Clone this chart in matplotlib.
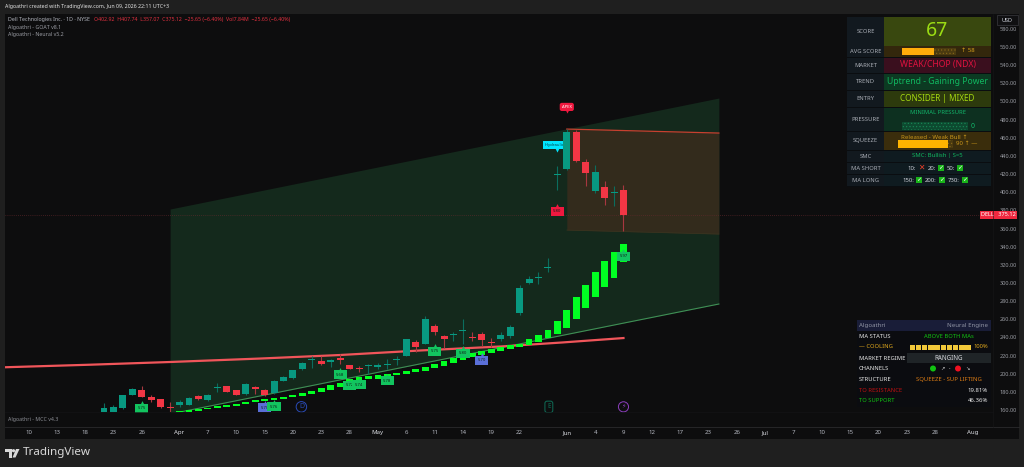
import matplotlib
matplotlib.use('Agg')
import matplotlib.pyplot as plt
from matplotlib.patches import Rectangle, Circle, Polygon

plt.rcParams['font.family'] = ['Noto Sans', 'DejaVu Sans']
plt.rcParams['hatch.linewidth'] = 0.4

# candles (Mar -> Jun 9)
opens = [158, 158, 162.2, 176.9, 181.7, 174, 171.8, 163.5, 166, 166, 175.4, 171, 184.7, 186.5,
         182, 177.6, 185, 182, 178.4, 192, 195, 205, 214.6, 213.6, 213, 217.3, 209.3, 206.3,
         209, 207.5, 210, 214.6, 219.8, 234.6, 233, 252.6, 241.5, 243, 247.5, 241, 243.7, 235,
         238.2, 241.9, 267.3, 299.6, 305.5, 316.5, 419, 426, 466.5, 433, 401.6, 405.7, 399, 402.92]
highs = [168, 165, 177, 184, 186, 176, 172.5, 169, 171, 174, 176, 177.5, 190, 187,
         182.5, 190, 186, 183, 193.5, 197, 204.5, 213, 219, 219, 216, 222, 210, 208.5,
         211, 211.5, 216, 220, 238.5, 237, 263.6, 255, 242.5, 246, 260, 246.5, 245.5, 239,
         246.5, 253.5, 297.7, 307.6, 311.6, 327, 429, 469.6, 468.6, 436.5, 430, 412.7, 407, 407.74]
lows = [157, 157, 161, 176, 174, 169, 162.5, 155, 163, 165.5, 171, 170, 180, 179.5,
        176, 177, 178, 175.5, 177.5, 191.5, 194.5, 204, 206.5, 209.5, 207, 211, 205, 201.5,
        200, 205, 205, 209.5, 219, 224, 233, 243, 228, 236, 233, 236, 231, 229,
        236, 239.5, 264.7, 298.5, 299, 312, 402.8, 425, 433.6, 407, 399, 386, 385, 357.07]
closes = [162, 163.6, 176.2, 183.2, 174.8, 171, 163, 162.5, 168.8, 173.2, 172, 176.9, 185.3, 180,
          176.9, 189, 183, 176.2, 192.3, 196, 203.6, 211.8, 215.2, 211, 215, 215, 205.3, 205.5,
          209.6, 209.5, 210.6, 215.2, 238, 229.4, 260, 246.5, 238, 243.8, 248, 239.5, 237, 233.8,
          242.6, 252, 295, 304.4, 307, 317.5, 420, 466, 434.7, 420.8, 422, 394, 400, 375.12]

# bright green trail bars, first one sits on bar 8
trail_start = 8
trail_top = [158.9, 160.3, 161.1, 162.5, 164.1, 165.5, 166.9, 168.8, 170.7, 171.8, 173.2, 174.6,
             176.8, 179, 181.2, 184.6, 187.5, 190.1, 194.1, 196.3, 197.4, 198.2, 199.7, 201.1,
             203, 205.2, 207.7, 210.7, 214, 217.6, 219.8, 222.5, 225, 227.2, 229, 231.3, 233,
             237.9, 242.3, 248.1, 258, 270.2, 284.5, 297.7, 312, 324.2, 334.1, 342.9]
trail_bot = [157.8, 158.1, 159.2, 160.7, 161.8, 163.6, 164.7, 166.9, 168.5, 169.6, 171, 172.4,
             174, 175.7, 177.6, 179.8, 182.3, 185, 189.8, 193, 193.8, 194.5, 196, 198.2,
             200, 201.5, 203.3, 205.9, 208.8, 212.1, 214.7, 218, 220.6, 222.8, 225.3, 227.5, 229,
             231.6, 234.6, 239, 243.7, 250.7, 260.6, 272.4, 284.5, 295.5, 305.4, 323]

ma_idx = [-10.5, -1.5, 7, 16.5, 25, 33.5, 42, 48.5, 55]
ma_val = [207.1, 209.9, 212.9, 216.7, 220.6, 225.6, 230, 234.4, 239.3]

channel_idx = [7, 65.1]
channel_up = [381.5, 503.8]
channel_low = [155.6, 276.8]
zone_idx = [49, 65.1]
zone_top = [469.6, 465.2]
zone_bot = [358.3, 353.9]
last_price = 375.12

price_ticks = list(range(160, 600, 20))
date_pos = [-8, -5, -2, 1, 4, 8, 11, 14, 17, 20, 23, 26, 29, 32, 35, 38, 41, 44, 49, 52, 55,
            58, 61, 64, 67, 70, 73, 76, 79, 82, 85, 88, 92]
date_labels = ['10', '13', '18', '23', '26', 'Apr', '7', '10', '15', '20', '23', '28', 'May', '6',
               '11', '14', '19', '22', 'Jun', '4', '9', '12', '17', '23', '26', 'Jul', '7', '10',
               '15', '20', '23', '28', 'Aug']
month_labels = ['Apr', 'May', 'Jun', 'Jul', 'Aug']

# chart tags: bar, price, text, colour
tag_idx = [4, 17, 18, 25, 26, 27, 30, 35, 38, 40, 48, 55]
tag_price = [162.2, 162.5, 163.6, 198.6, 187.5, 188, 192, 225, 222.8, 215.1, 379.3, 329.7]
tag_text = ['5.75', '5.70', '5.76', '5.68', '5.72', '5.74', '5.78', '5.75', '5.80', '5.70', '5.80', '5.97']
tag_color = ['#12c45f', '#5a6fd8', '#12c45f', '#12c45f', '#12c45f', '#12c45f', '#12c45f', '#12c45f',
             '#12c45f', '#5a6fd8', '#f0183f', '#12c45f']

FIG_BG = '#1f1f1f'
PANE = '#0d0d0e'
TEAL = '#089981'
RED = '#f23645'
LIME = '#00ff22'

fig = plt.figure(figsize=(10.24, 4.67), dpi=100, facecolor=FIG_BG)

# pixel layer for everything that is not price data
ui_back = fig.add_axes([0, 0, 1, 1], zorder=0)
ui_back.set_xlim(0, 1024)
ui_back.set_ylim(467, 0)
ui_back.axis('off')
ui_back.add_patch(Rectangle((5, 14), 1014, 425, fc=PANE, ec='none'))

ax = fig.add_axes([5 / 1024, 55 / 467, 988 / 1024, 398 / 467], zorder=1)
ax.set_facecolor('none')
ax.set_xlim((5 - 104) / 9.445, (993 - 104) / 9.445)
ax.set_ylim(157.8, 596.4)
for s in ax.spines.values():
    s.set_visible(False)

# channel and zone
ax.fill_between(channel_idx, channel_low, channel_up, color='#14291c', lw=0, zorder=1)
ax.plot(channel_idx, channel_low, color='#3f8f55', lw=0.8, zorder=2)
ax.fill_between(zone_idx, zone_bot, zone_top, color='#332b1c', lw=0, zorder=2)
ax.plot(zone_idx, zone_top, color='#c8402f', lw=0.9, zorder=3)
ax.plot(zone_idx, zone_bot, color='#3a3520', lw=0.5, zorder=3)

ax.axhline(last_price, color='#6e2a30', lw=0.5, ls=(0, (1, 2)), zorder=3)
ax.plot(ma_idx, ma_val, color='#f0555a', lw=1.6, zorder=4)

# trail bars
for i in range(len(trail_top)):
    ax.bar(trail_start + i, trail_top[i] - trail_bot[i], 0.72, bottom=trail_bot[i],
           color=LIME, lw=0, zorder=5)

# candles
for i in range(len(opens)):
    col = TEAL if closes[i] >= opens[i] else RED
    wick = '#0b6d5e' if closes[i] >= opens[i] else '#a83740'
    ax.vlines(i, lows[i], highs[i], color=wick, lw=0.8, zorder=6)
    body = max(abs(closes[i] - opens[i]), 1.1)
    ax.bar(i, body, 0.74, bottom=min(opens[i], closes[i]), color=col, edgecolor=col, lw=0, zorder=7)

# tags on the bars
for i in range(len(tag_idx)):
    ax.plot(tag_idx[i], tag_price[i] + 5, marker='^', ms=3.5, color=tag_color[i], mew=0, zorder=8)
    ax.text(tag_idx[i], tag_price[i], tag_text[i], fontsize=3, color='#10201a', ha='center', va='center',
            zorder=9, bbox=dict(boxstyle='square,pad=0.6', fc=tag_color[i], ec='none'))

ax.plot(49, 489, marker='v', ms=3, color='#f0183f', mew=0, zorder=8)
ax.text(49, 494, 'APEX', fontsize=3, color='white', ha='center', va='center', zorder=9,
        bbox=dict(boxstyle='round,pad=0.5', fc='#f0183f', ec='none'))
ax.plot(48, 447, marker='v', ms=3, color='#00e5ff', mew=0, zorder=5.5)
ax.text(47.9, 452, 'Hydraulic P', fontsize=3, color='#07414a', ha='center', va='center', zorder=5.6,
        bbox=dict(boxstyle='square,pad=0.5', fc='#00e5ff', ec='none'))

# event markers
ax.text(20.9, 163.5, 'D', fontsize=5, color='#2a4bb8', ha='center', va='center', zorder=6,
        bbox=dict(boxstyle='circle,pad=0.25', fc='none', ec='#2a4bb8', lw=0.7))
ax.text(47.1, 163.5, 'E', fontsize=4.5, color='#0f6e58', ha='center', va='center', zorder=6,
        bbox=dict(boxstyle='round,pad=0.35', fc='none', ec='#0f6e58', lw=0.7))
ax.text(55, 163.5, '⚡', fontsize=4.5, color='#8e3fc0', ha='center', va='center', zorder=6,
        bbox=dict(boxstyle='circle,pad=0.25', fc='none', ec='#8e3fc0', lw=0.7))

# axes
ax.yaxis.tick_right()
ax.set_yticks(price_ticks)
ax.set_yticklabels(['%.2f' % p for p in price_ticks], fontsize=4.0, color='#9a9ca3')
ax.tick_params(axis='y', length=0, pad=5)
ax.set_xticks(date_pos)
ax.set_xticklabels(date_labels, fontsize=4.4, color='#b2b5be')
for lab in ax.get_xticklabels():
    if lab.get_text() in month_labels:
        lab.set_fontweight('bold')
        lab.set_color('#d8dae0')
ax.tick_params(axis='x', length=0, pad=13)

# top pixel layer
ui = fig.add_axes([0, 0, 1, 1], zorder=2)
ui.set_xlim(0, 1024)
ui.set_ylim(467, 0)
ui.axis('off')


def box(x0, y0, x1, y1, color, **kw):
    ui.add_patch(Rectangle((x0, y0), x1 - x0, y1 - y0, fc=color, ec=kw.pop('ec', 'none'), lw=kw.pop('lw', 0), **kw))


def txt(x, y, s, color='#d1d4dc', size=5, ha='left', **kw):
    ui.text(x, y, s, color=color, fontsize=size, ha=ha, va='center', **kw)


ui.plot([5, 1019], [427, 427], color='#2a2a2c', lw=0.6)
ui.plot([5, 993], [412, 412], color='#141416', lw=0.5)
ui.plot([993, 993], [14, 427], color='#161618', lw=0.4)

# header
txt(5, 6.5, 'Algoathri created with TradingView.com, Jun 09, 2026 22:11 UTC+3', '#e4e4e4', 3.75, fontweight='bold')
txt(8, 19.5, 'Dell Technologies Inc. · 1D · NYSE', '#b2b5be', 3.8)
txt(94, 19.5, 'O402.92  H407.74  L357.07  C375.12  −25.65 (−6.40%)  Vol7.84M  −25.65 (−6.40%)', '#e0303f', 3.75)
txt(8, 27, 'Algoathri - GOAT v8.1', '#9a9ca3', 3.8)
txt(8, 34.5, 'Algoathri - Neural v5.2', '#9a9ca3', 3.8)
txt(8, 419, 'Algoathri - MCC v4.3', '#8a8c93', 3.8)

# USD box and last price tag
ui.add_patch(Rectangle((997, 15), 21, 10, fc='#101012', ec='#3a3a3e', lw=0.5))
txt(1007.5, 20, 'USD', '#d1d4dc', 4.0, ha='center')
box(980, 211, 1017, 218.5, '#f0283f')
txt(998.5, 215, 'DELL   375.12', 'white', 4.0, ha='center')

# score panel
rows = [('SCORE', 17, 45.5, '#39480f'), ('AVG SCORE', 46, 57, '#33270c'), ('MARKET', 57.5, 73, '#3a0f1e'),
        ('TREND', 73.5, 90, '#0c3a22'), ('ENTRY', 90.5, 107, '#2d3a0d'), ('PRESSURE', 107.5, 131, '#0d3020'),
        ('SQUEEZE', 131.5, 150, '#3a2d0c'), ('SMC', 150.5, 162, '#0f1b20'), ('MA SHORT', 162.5, 174, '#0f1b20'),
        ('MA LONG', 174.5, 186, '#0f1b20')]
box(847, 16.5, 991, 186.5, '#0a0d10')
for name, y0, y1, bg in rows:
    box(847, y0, 883.5, y1, '#12191f')
    box(884, y0, 991, y1, bg)
    txt(865.5, (y0 + y1) / 2, name, '#a9adb5', 4.2, ha='center')

txt(937.5, 31, '67', '#9bdc14', 14, ha='center', fontweight='medium')

box(902, 47.5, 933.5, 55, '#ffad0a')
box(933.5, 47.5, 956, 55, '#4a3a10', ec='#8a6a18', hatch='.....')
txt(961, 51, '↑ 58', '#d9a21a', 4.4)
txt(937.5, 65, 'WEAK/CHOP (NDX)', '#e0123f', 6.2, ha='center')
txt(937.5, 82, 'Uptrend - Gaining Power', '#10b860', 6.2, ha='center')
txt(937.5, 98.5, 'CONSIDER | MIXED', '#a4d810', 5.9, ha='center')
txt(937.5, 112.5, 'MINIMAL PRESSURE', '#12b56a', 4.2, ha='center', fontweight='medium')
box(902, 122, 968, 130, '#0d4a30', ec='#1a8a58', hatch='.....')
txt(973, 126, '0', '#12b56a', 5, ha='center', fontweight='bold')
box(898, 140, 948, 148, '#ffb400')
box(948, 140, 953, 148, '#4a3a10', ec='#8a6a18', hatch='.....')
txt(934, 137.5, 'Released - Weak Bull ↑', '#c9961a', 4.4, ha='center')
txt(955.5, 143.5, '90 ↑ —', '#c9961a', 4.4)
txt(937.5, 156, 'SMC: Bullish | S=5', '#10b860', 4.3, ha='center', fontweight='medium')


def check(x, y, ok):
    if ok:
        box(x - 3, y - 3, x + 3, y + 3, '#19b319')
        txt(x, y, '✓', 'white', 4.5, ha='center')
    else:
        txt(x, y, '✕', '#f0402a', 5.5, ha='center', fontweight='bold')


for x, lab, bx, ok in [(912, '10:', 921, False), (932, '20:', 941, True), (951, '50:', 960, True)]:
    txt(x, 168, lab, '#d1d4dc', 4.3, ha='center')
    check(bx, 168, ok)
for x, lab, bx in [(908, '150:', 919), (931, '200:', 942), (954, '730:', 965)]:
    txt(x, 180, lab, '#d1d4dc', 4.3, ha='center')
    check(bx, 180, True)

# neural engine panel
box(857, 320, 991, 407, '#0b0c10')
box(857, 320, 991, 331, '#191d38')
txt(859, 325.5, 'Algoathri', '#8f93a3', 4.4)
txt(988, 325.5, 'Neural Engine', '#8f93a3', 4.4, ha='right')
labels = [('MA STATUS', 336, '#e8e8e8'), ('— COOLING', 347, '#e0a81c'), ('MARKET REGIME', 358, '#e8e8e8'),
          ('CHANNELS', 368.5, '#e8e8e8'), ('STRUCTURE', 379.5, '#e8e8e8'), ('TO RESISTANCE', 390, '#c01010'),
          ('TO SUPPORT', 401, '#11c211')]
for s, y, c in labels:
    txt(859, y, s, c, 4.2, fontweight='medium')
txt(949, 336, 'ABOVE BOTH MAs', '#11c211', 4.2, ha='center')
for k in range(10):
    box(909.5 + k * 6.2, 344.5, 915 + k * 6.2, 349.5, '#f2c83a')
txt(988, 347, '100%', '#e0a81c', 4.2, ha='right')
box(907, 352.5, 991, 363, '#1f2427')
txt(949, 358, 'RANGING', '#d8dade', 4.5, ha='center', fontweight='medium')
ui.add_patch(Circle((933, 368.5), 3, fc='#11c211', ec='none'))
txt(942, 368.5, '↗', '#c8c8c8', 3.8, ha='center')
txt(949, 368.5, '·', '#c8c8c8', 4.5, ha='center')
ui.add_patch(Circle((958, 368.5), 3, fc='#f01020', ec='none'))
txt(967, 368.5, '↘', '#c8c8c8', 3.8, ha='center')
txt(949, 379.5, 'SQUEEZE - SUP LIFTING', '#d97a14', 4.3, ha='center')
txt(988, 390, '19.81%', '#e8e8e8', 4.3, ha='right', fontweight='bold')
txt(988, 401, '46.36%', '#e8e8e8', 4.3, ha='right', fontweight='bold')

# TradingView footer
ui.add_patch(Polygon([(5, 449), (12, 449), (12, 457.5), (9, 457.5), (9, 452), (5, 452)], fc='#d8d8d8', ec='none'))
ui.add_patch(Circle((13.5, 450.7), 1.6, fc='#d8d8d8', ec='none'))
ui.add_patch(Polygon([(16, 449), (19.5, 449), (15.5, 457.5), (12.5, 457.5)], fc='#d8d8d8', ec='none'))
txt(23, 453, 'TradingView', '#d8d8d8', 8.4, fontweight='medium')

fig.savefig('out.png', dpi=100, facecolor=FIG_BG)
